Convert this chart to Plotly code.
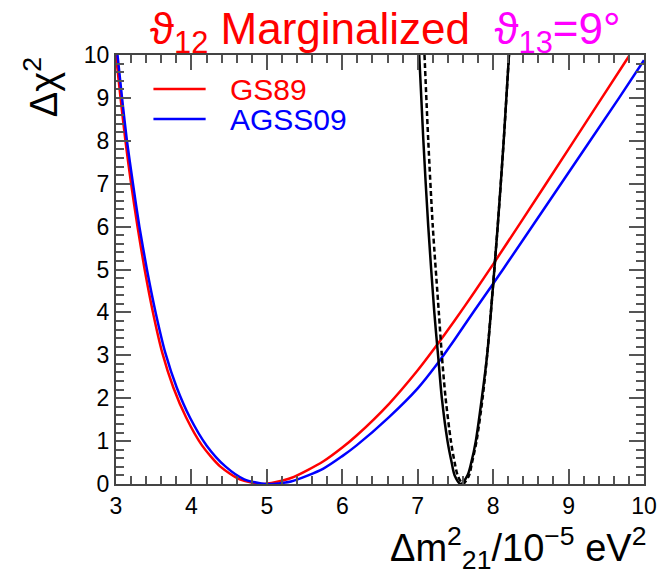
import plotly.graph_objects as go

# GS89 (red)
gs89_x = [3.00, 3.06, 3.125, 3.20, 3.285, 3.38, 3.49, 3.615, 3.76, 3.93, 4.14, 4.38, 4.64, 4.93, 5.32, 5.75, 6.00, 6.19, 6.62, 7.00, 7.23, 7.49, 7.75, 8.01, 8.69, 9.43, 9.80]
gs89_y = [10.0, 9.0, 8.0, 7.0, 6.0, 5.0, 4.0, 3.05, 2.25, 1.55, 0.90, 0.41, 0.11, 0.0, 0.14, 0.53, 0.85, 1.13, 1.87, 2.65, 3.18, 3.81, 4.47, 5.15, 6.97, 8.97, 9.97]

# AGSS09 (blue)
agss_x = [3.02, 3.08, 3.145, 3.225, 3.31, 3.41, 3.525, 3.655, 3.805, 3.98, 4.20, 4.45, 4.70, 4.99, 5.32, 5.75, 6.00, 6.19, 6.62, 7.00, 7.25, 7.49, 7.75, 8.00, 8.13, 8.90, 9.67, 10.0]
agss_y = [10.0, 9.0, 8.0, 7.0, 6.0, 5.0, 4.0, 3.05, 2.25, 1.55, 0.90, 0.41, 0.11, 0.0, 0.06, 0.36, 0.65, 0.90, 1.56, 2.23, 2.78, 3.37, 4.04, 4.67, 5.0, 7.0, 9.0, 9.88]

# Black solid
solid_x = [7.02, 7.075, 7.14, 7.22, 7.27, 7.32, 7.395, 7.45, 7.49, 7.57, 7.66, 7.71, 7.77, 7.85, 7.92, 7.97, 8.06, 8.14, 8.21]
solid_y = [10, 8, 6, 4, 3, 2, 1, 0.5, 0.2, 0, 0.2, 0.5, 1, 2, 3, 4, 6, 8, 10]

# Black dashed
dash_x = [7.09, 7.14, 7.20, 7.28, 7.32, 7.37, 7.44, 7.49, 7.53, 7.60, 7.68, 7.72, 7.78, 7.86, 7.92, 7.97, 8.06, 8.14, 8.21]
dash_y = [10, 8, 6, 4, 3, 2, 1, 0.5, 0.2, 0, 0.2, 0.5, 1, 2, 3, 4, 6, 8, 10]

x_ticks = [3, 4, 5, 6, 7, 8, 9, 10]
y_ticks = [0, 1, 2, 3, 4, 5, 6, 7, 8, 9, 10]

FONT = "Liberation Sans"

fig = go.Figure()
fig.add_trace(go.Scatter(x=gs89_x, y=gs89_y, mode="lines", line=dict(color="#ff0000", width=2.5, shape="spline", smoothing=0.7), showlegend=False))
fig.add_trace(go.Scatter(x=agss_x, y=agss_y, mode="lines", line=dict(color="#0000ff", width=2.5, shape="spline", smoothing=0.7), showlegend=False))
fig.add_trace(go.Scatter(x=dash_x, y=dash_y, mode="lines", line=dict(color="black", width=2.5, dash="5px,3px", shape="spline", smoothing=0.8), showlegend=False))
fig.add_trace(go.Scatter(x=solid_x, y=solid_y, mode="lines", line=dict(color="black", width=2.5, shape="spline", smoothing=0.8), showlegend=False))

axis_common = dict(
    showgrid=False, zeroline=False, showline=True, linecolor="#444", linewidth=2,
    mirror="ticks", ticks="inside", ticklen=15, tickwidth=1.5, tickcolor="#555",
    tickfont=dict(family=FONT, size=23, color="black"),
    minor=dict(ticks="inside", ticklen=8, dtick=0.2, tickcolor="#555", tickwidth=1.5),
)

fig.update_xaxes(range=[3, 10], tickvals=x_ticks, ticktext=[str(v) for v in x_ticks], **axis_common)
fig.update_yaxes(range=[0, 10], tickvals=y_ticks, ticktext=[str(v) for v in y_ticks], **axis_common)

W, H = 669, 576
L, R, T, B = 116, 17, 55, 92
pw, ph = W - L - R, H - T - B

def px(x):
    return (x - L) / pw

def py(y):
    return (H - B - y) / ph

annotations = [
    dict(text='<span style="color:#ff0000">ϑ<sub>12</sub> Marginalized</span>  <span style="color:#ff00ff">ϑ<sub>13</sub>=9°</span>',
         x=px(390), y=py(32), xref="paper", yref="paper", showarrow=False,
         font=dict(family=FONT, size=44), xanchor="center", yanchor="middle"),
    dict(text="Δχ<sup>2</sup>", x=px(40), y=py(87), xref="paper", yref="paper", showarrow=False,
         textangle=-90, font=dict(family=FONT, size=38, color="black"), xanchor="center", yanchor="middle"),
    dict(text="Δm<sup>2</sup><sub>21</sub>/10<sup>−5</sup> eV<sup>2</sup>", x=px(656), y=py(548), xref="paper", yref="paper",
         showarrow=False, font=dict(family=FONT, size=38, color="black"), xanchor="right", yanchor="middle"),
    dict(text="GS89", x=px(230), y=py(89), xref="paper", yref="paper", showarrow=False,
         font=dict(family=FONT, size=30, color="#ff0000"), xanchor="left", yanchor="middle"),
    dict(text="AGSS09", x=px(230), y=py(119), xref="paper", yref="paper", showarrow=False,
         font=dict(family=FONT, size=30, color="#0000ff"), xanchor="left", yanchor="middle"),
]

shapes = [
    dict(type="line", xref="paper", yref="paper", x0=px(154), x1=px(207), y0=py(89), y1=py(89), line=dict(color="#ff0000", width=2.5)),
    dict(type="line", xref="paper", yref="paper", x0=px(154), x1=px(207), y0=py(119), y1=py(119), line=dict(color="#0000ff", width=2.5)),
]

fig.update_layout(
    width=W, height=H, margin=dict(l=L, r=R, t=T, b=B),
    paper_bgcolor="white", plot_bgcolor="white",
    annotations=annotations, shapes=shapes, showlegend=False,
)

fig.write_html("out.html")
